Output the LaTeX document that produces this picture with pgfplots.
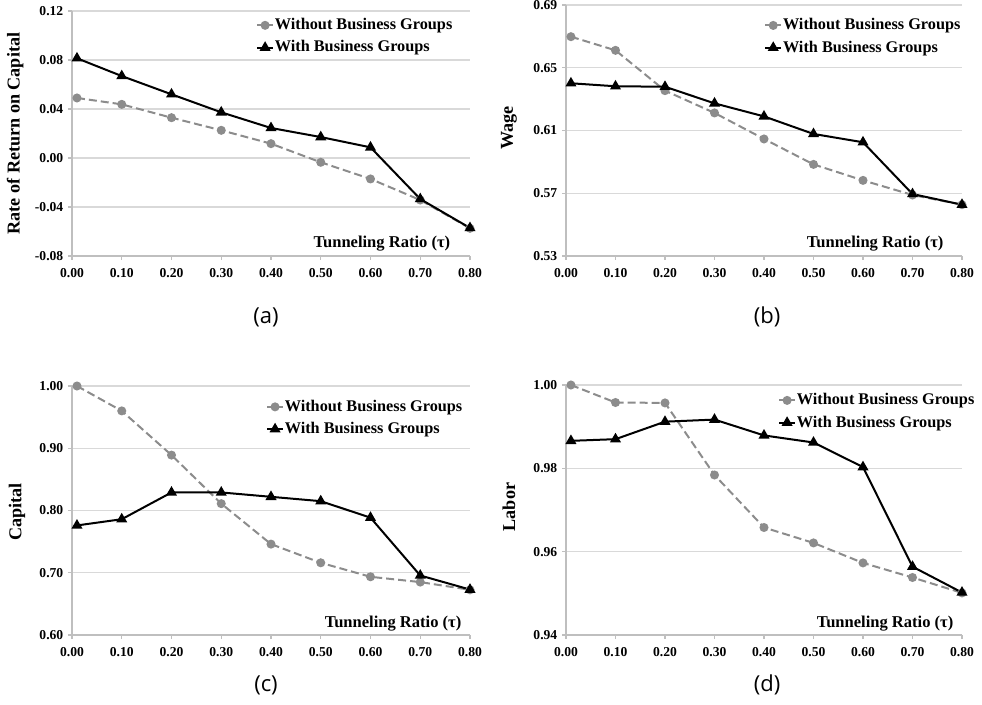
\documentclass[border=0pt]{standalone}
\usepackage{fontspec}
\setmainfont{Liberation Serif}
\newfontfamily\capfont{Open Sans}
\usepackage{pgfplots}
\pgfplotsset{compat=1.18}
\definecolor{gline}{HTML}{8C8C8C}
\definecolor{gridc}{HTML}{D9D9D9}
\definecolor{axc}{HTML}{BFBFBF}
\pgfplotsset{
  panel/.style={
    scale only axis,
    anchor=south west,
    xmin=0, xmax=0.8,
    xtick={0,0.1,0.2,0.3,0.4,0.5,0.6,0.7,0.8},
    xticklabels={0.00,0.10,0.20,0.30,0.40,0.50,0.60,0.70,0.80},
    axis x line*=bottom, axis y line*=left,
    axis line style={axc, line width=0.9pt, -},
    ymajorgrids, grid style={gridc, line width=0.9pt},
    tick style={axc, line width=0.9pt},
    tick align=outside,
    major tick length=3pt,
    tick label style={font=\fontsize{10.2}{10}\selectfont\bfseries},
    xticklabel style={yshift=-3pt},
    ylabel style={font=\fontsize{13.6}{14}\selectfont\bfseries, anchor=center},
    clip=false,
    legend cell align=left,
    legend style={draw=none, fill=none, anchor=north west, inner sep=0pt,
      font=\fontsize{12.2}{12}\selectfont\bfseries,
      nodes={inner xsep=0.6pt, inner ysep=2.6pt, text height=9pt, text depth=2.5pt},
      /tikz/every even column/.append style={column sep=0pt}},
    legend image code/.code={\draw[mark repeat=2,mark phase=2,#1] plot coordinates {(0cm,0cm) (0.21cm,0cm) (0.42cm,0cm)};},
  },
  wo/.style={gline, line width=1.5pt, dash pattern=on 6pt off 3pt, mark=*, mark size=2.6pt, mark options={solid, fill=gline, draw=gline}},
  wi/.style={black, line width=1.5pt, solid, mark=triangle*, mark size=3.3pt, mark options={solid, fill=black}},
}
\newcommand{\tunnel}[2]{\node[anchor=east, font=\fontsize{12.4}{12}\selectfont\bfseries] at (rel axis cs:#1,#2) {Tunneling Ratio (τ)};}
\begin{document}
\begin{tikzpicture}
\path[use as bounding box] (0,0) rectangle (736.5pt,528pt);
% (a)
\begin{axis}[panel, at={(54pt,336pt)}, width=298.5pt, height=183.75pt,
  ymin=-0.08, ymax=0.12,
  ytick={-0.08,-0.04,0,0.04,0.08,0.12},
  yticklabels={-0.08,-0.04,0.00,0.04,0.08,0.12},
  ylabel={Rate of Return on Capital},
  ylabel style={at={(axis description cs:-0.143,0.5)}},
  legend style={at={(axis description cs:0.462,0.988)}}]
\addplot[wo] coordinates {(0.01,0.0490) (0.1,0.0438) (0.2,0.0329) (0.3,0.0226) (0.4,0.0117) (0.5,-0.0035) (0.6,-0.0171) (0.7,-0.0343) (0.8,-0.0574)};
\addlegendentry{Without Business Groups}
\addplot[wi] coordinates {(0.01,0.0814) (0.1,0.0669) (0.2,0.0520) (0.3,0.0373) (0.4,0.0245) (0.5,0.0171) (0.6,0.0087) (0.7,-0.0335) (0.8,-0.0571)};
\addlegendentry{With Business Groups}
\tunnel{0.962}{0.052}
\end{axis}
% (b)
\begin{axis}[panel, at={(424.5pt,336pt)}, width=297pt, height=188.25pt,
  ymin=0.53, ymax=0.69,
  ytick={0.53,0.57,0.61,0.65,0.69},
  yticklabels={0.53,0.57,0.61,0.65,0.69},
  ylabel={Wage},
  ylabel style={at={(axis description cs:-0.144,0.51)}},
  legend style={at={(axis description cs:0.5,0.964)}}]
\addplot[wo] coordinates {(0.01,0.6698) (0.1,0.6611) (0.2,0.6354) (0.3,0.6212) (0.4,0.6046) (0.5,0.5884) (0.6,0.5782) (0.7,0.5689) (0.8,0.5627)};
\addlegendentry{Without Business Groups}
\addplot[wi] coordinates {(0.01,0.6401) (0.1,0.6382) (0.2,0.6379) (0.3,0.6273) (0.4,0.6190) (0.5,0.6078) (0.6,0.6025) (0.7,0.5695) (0.8,0.5627)};
\addlegendentry{With Business Groups}
\tunnel{0.965}{0.051}
\end{axis}
% (c)
\begin{axis}[panel, at={(54pt,51.75pt)}, width=298.5pt, height=186.75pt,
  ymin=0.6, ymax=1.0,
  ytick={0.6,0.7,0.8,0.9,1.0},
  yticklabels={0.60,0.70,0.80,0.90,1.00},
  ylabel={Capital},
  ylabel style={at={(axis description cs:-0.138,0.494)}},
  legend style={at={(axis description cs:0.487,0.962)}}]
\addplot[wo] coordinates {(0.01,1.000) (0.1,0.960) (0.2,0.889) (0.3,0.811) (0.4,0.746) (0.5,0.716) (0.6,0.6935) (0.7,0.685) (0.8,0.6726)};
\addlegendentry{Without Business Groups}
\addplot[wi] coordinates {(0.01,0.776) (0.1,0.786) (0.2,0.829) (0.3,0.829) (0.4,0.822) (0.5,0.815) (0.6,0.7885) (0.7,0.6956) (0.8,0.673)};
\addlegendentry{With Business Groups}
\tunnel{0.99}{0.045}
\end{axis}
% (d)
\begin{axis}[panel, at={(424.5pt,51.75pt)}, width=297pt, height=187.5pt,
  ymin=0.94, ymax=1.0,
  ytick={0.94,0.96,0.98,1.0},
  yticklabels={0.94,0.96,0.98,1.00},
  ylabel={Labor},
  ylabel style={at={(axis description cs:-0.144,0.512)}},
  legend style={at={(axis description cs:0.535,0.984)}}]
\addplot[wo] coordinates {(0.01,1.000) (0.1,0.9958) (0.2,0.9957) (0.3,0.9784) (0.4,0.9658) (0.5,0.9621) (0.6,0.9573) (0.7,0.9538) (0.8,0.9501)};
\addlegendentry{Without Business Groups}
\addplot[wi] coordinates {(0.01,0.9866) (0.1,0.9870) (0.2,0.9912) (0.3,0.9917) (0.4,0.9879) (0.5,0.9862) (0.6,0.9803) (0.7,0.9564) (0.8,0.9502)};
\addlegendentry{With Business Groups}
\tunnel{0.99}{0.045}
\end{axis}
\node[font=\capfont\fontsize{16.5}{16.5}\selectfont] at (199.5pt,290.25pt) {(a)};
\node[font=\capfont\fontsize{16.5}{16.5}\selectfont] at (575.25pt,290.25pt) {(b)};
\node[font=\capfont\fontsize{16.5}{16.5}\selectfont] at (199.5pt,14.25pt) {(c)};
\node[font=\capfont\fontsize{16.5}{16.5}\selectfont] at (575.25pt,14.25pt) {(d)};
\end{tikzpicture}
\end{document}
